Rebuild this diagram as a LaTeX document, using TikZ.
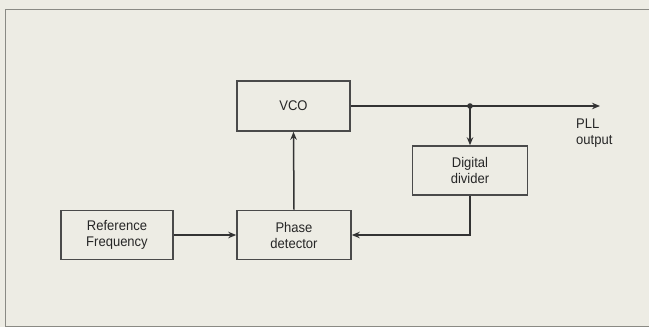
\documentclass[tikz,border=0pt]{standalone}
\usepackage{fontspec}
\setmainfont{Liberation Sans}[FakeStretch=0.93]
\usetikzlibrary{arrows.meta}
\definecolor{bgc}{HTML}{EDECE4}
\definecolor{framec}{HTML}{8A8A84}
\definecolor{boxc}{HTML}{4A4A4A}
\definecolor{linec}{HTML}{333333}
\definecolor{txtc}{HTML}{262626}
\begin{document}
\begin{tikzpicture}[x=1pt,y=-1pt,
  blk/.style={draw=boxc, line width=1.6pt, align=center, inner sep=0pt,
    font=\fontsize{14}{16}\selectfont, text=txtc},
  wire/.style={draw=linec, line width=1.5pt},
  conn/.style={wire, -{Stealth[length=8pt,width=6.5pt]}}]
\fill[bgc] (0,0) rectangle (649,327);
\useasboundingbox (0,0) rectangle (649,327);
\draw[framec, line width=1pt] (5,326) -- (5,9) -- (649,9);
\draw[framec, line width=1pt] (5,326) -- (649,326);
\node[blk, minimum width=113pt, minimum height=50pt] (vco) at (293.5,106) {VCO};
\node[blk, minimum width=115pt, minimum height=49pt] (dd) at (470,170.5) {Digital\\divider};
\node[blk, minimum width=112pt, minimum height=49pt] (ref) at (117,235) {Reference\\Frequency};
\node[blk, minimum width=114pt, minimum height=49pt] (pd) at (294,235) {Phase\\detector};
\coordinate (j) at (dd.north |- vco.east);
\coordinate (out) at (600,106);
\draw[wire] (vco.east) -- (j);
\draw[conn] (j) -- (out);
\draw[conn] (j) -- (dd.north);
\fill[linec] (j) circle (2.8pt);
\draw[conn] (dd.south) |- (pd.east);
\draw[conn] (ref.east) -- (pd.west);
\draw[conn] (pd.north) -- (vco.south);
\node[anchor=west, align=left, inner sep=0pt, font=\fontsize{14}{16}\selectfont, text=txtc] (lbl) at (576,133) {PLL\\output};
\end{tikzpicture}
\end{document}
